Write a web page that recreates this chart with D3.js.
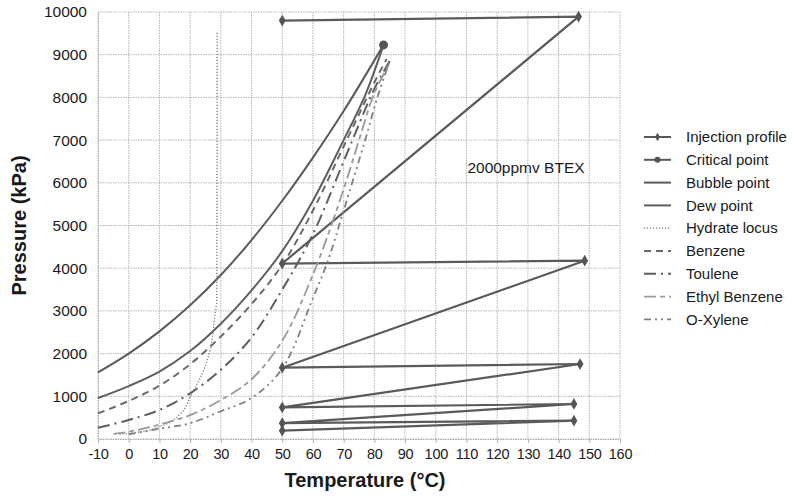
<!DOCTYPE html>
<html>
<head>
<meta charset="utf-8">
<script src="https://cdn.jsdelivr.net/npm/d3@7"></script>
<style>
	body { margin: 0; background: #fff; }
	svg { font-family: "Liberation Sans", Arial, sans-serif; }
</style>
</head>
<body>
<svg width="796" height="498"></svg>
<script>
// temperature (°C), pressure (kPa)
const injectionT = [50, 145, 50, 145, 50, 147, 50, 148.5, 50, 146.5, 50];
const injectionP = [195, 430, 370, 820, 740, 1756, 1670, 4176, 4110, 9890, 9800];

const criticalT = [83];
const criticalP = [9230];

const bubbleT = [-10, 0, 10, 20, 30, 40, 50, 60, 70, 83];
const bubbleP = [1560, 2000, 2520, 3130, 3840, 4660, 5580, 6590, 7680, 9230];

const dewT = [-10, 0, 10, 20, 30, 40, 50, 60, 70, 77, 83];
const dewP = [960, 1240, 1580, 2060, 2700, 3480, 4400, 5580, 7000, 8050, 9230];

const hydrateT = [-3, 4, 10, 17, 20, 24, 26.5, 28, 28.7, 28.8];
const hydrateP = [110, 170, 290, 600, 990, 1540, 2080, 2860, 3300, 9540];

const benzeneT = [-10, 0, 10, 20, 30, 40, 50, 60, 70, 80, 84];
const benzeneP = [600, 890, 1250, 1750, 2400, 3160, 4080, 5350, 6850, 8350, 8900];

const tolueneT = [-10, 0, 10, 20, 30, 40, 50, 60, 70, 80, 85];
const tolueneP = [265, 445, 680, 1070, 1620, 2380, 3500, 4800, 6500, 8200, 8850];

const ethylT = [-5, 0, 10, 20, 30, 40, 50, 60, 70, 75, 80, 85];
const ethylP = [120, 170, 340, 560, 910, 1400, 2300, 3850, 5850, 7000, 8100, 8800];

const xyleneT = [0, 10, 20, 30, 40, 50, 60, 65, 70, 77, 81, 85];
const xyleneP = [110, 240, 370, 650, 960, 1650, 3300, 4200, 5350, 7000, 8000, 8850];

const xTicks = d3.range(-10, 161, 10);
const yTicks = d3.range(0, 10001, 1000);

const legendNames = ['Injection profile', 'Critical point', 'Bubble point', 'Dew point', 'Hydrate locus',
	'Benzene', 'Toulene', 'Ethyl Benzene', 'O-Xylene'];

function zipPoints(ts, ps) {
	return ts.map((t, i) => ({ t: t, p: ps[i] }));
}

const smooth = d3.curveCatmullRom.alpha(0.5);

const series = [
	{ name: 'Injection profile', pts: zipPoints(injectionT, injectionP), color: '#5a5a5a', width: 2.2, dash: null, curve: d3.curveLinear },
	{ name: 'Bubble point', pts: zipPoints(bubbleT, bubbleP), color: '#5a5a5a', width: 2, dash: null, curve: smooth },
	{ name: 'Dew point', pts: zipPoints(dewT, dewP), color: '#5f5f5f', width: 2, dash: null, curve: smooth },
	{ name: 'Hydrate locus', pts: zipPoints(hydrateT, hydrateP), color: '#7a7a7a', width: 1.3, dash: '1.2,1.8', curve: d3.curveMonotoneY },
	{ name: 'Benzene', pts: zipPoints(benzeneT, benzeneP), color: '#6a6a6a', width: 2, dash: '7,5', curve: smooth },
	{ name: 'Toulene', pts: zipPoints(tolueneT, tolueneP), color: '#5e5e5e', width: 2, dash: '12,5,2,5', curve: smooth },
	{ name: 'Ethyl Benzene', pts: zipPoints(ethylT, ethylP), color: '#9a9a9a', width: 1.8, dash: '12,4,5,4', curve: smooth },
	{ name: 'O-Xylene', pts: zipPoints(xyleneT, xyleneP), color: '#808080', width: 1.8, dash: '7,4,2,4,2,4', curve: smooth }
];

const svg = d3.select("svg");
const margin = { left: 98, right: 620, top: 12, bottom: 439 };

const x = d3.scaleLinear().domain([-10, 160]).range([margin.left, margin.right]);
const y = d3.scaleLinear().domain([0, 10000]).range([margin.bottom, margin.top]);

// grid
const grid = svg.append("g").attr("class", "grid");
grid.selectAll("line.vx")
	.data(xTicks)
	.enter().append("line")
		.attr("x1", d => x(d)).attr("x2", d => x(d))
		.attr("y1", y(0)).attr("y2", y(10000))
		.attr("stroke", "#b5b5b5")
		.attr("stroke-width", 1)
		.attr("stroke-dasharray", "1.5,1");
grid.selectAll("line.hy")
	.data(yTicks)
	.enter().append("line")
		.attr("x1", x(-10)).attr("x2", x(160))
		.attr("y1", d => y(d)).attr("y2", d => y(d))
		.attr("stroke", "#b5b5b5")
		.attr("stroke-width", 1)
		.attr("stroke-dasharray", "1.5,1");

// axes
const xAxis = svg.append("g")
	.attr("transform", `translate(0,${y(0)})`)
	.call(d3.axisBottom(x).tickValues(xTicks).tickFormat(d => String(d)).tickSize(4).tickPadding(6));
const yAxis = svg.append("g")
	.attr("transform", `translate(${x(-10)},0)`)
	.call(d3.axisLeft(y).tickValues(yTicks).tickFormat(d => String(d)).tickSize(0).tickPadding(11));
[xAxis, yAxis].forEach(a => {
	a.select(".domain").attr("stroke", "#b0b0b0").attr("stroke-dasharray", "1.5,1");
	a.selectAll(".tick line").attr("stroke", "#b0b0b0");
	a.selectAll("text").attr("fill", "#1a1a1a").style("font-family", "'Liberation Sans', Arial, sans-serif");
});
xAxis.selectAll("text").attr("font-size", 14.5).attr("letter-spacing", "-0.3");
yAxis.selectAll("text").attr("font-size", 15.5);

// series lines
series.forEach(s => {
	const line = d3.line()
		.x(d => x(d.t))
		.y(d => y(d.p))
		.curve(s.curve);
	svg.append("path")
		.datum(s.pts)
		.attr("fill", "none")
		.attr("stroke", s.color)
		.attr("stroke-width", s.width)
		.attr("stroke-dasharray", s.dash)
		.attr("d", line);
});

// injection markers
const diamond = d3.symbol().type(d3.symbolDiamond).size(40);
svg.append("g")
	.selectAll("path")
	.data(series[0].pts)
	.enter().append("path")
		.attr("transform", d => `translate(${x(d.t)},${y(d.p)})`)
		.attr("d", diamond)
		.attr("fill", "#555");

// critical point
svg.append("g")
	.selectAll("circle")
	.data(zipPoints(criticalT, criticalP))
	.enter().append("circle")
		.attr("cx", d => x(d.t))
		.attr("cy", d => y(d.p))
		.attr("r", 4.5)
		.attr("fill", "#555");

// annotation
svg.append("text")
	.attr("x", x(110.3))
	.attr("y", y(6230))
	.attr("font-size", 15.5)
	.attr("fill", "#1a1a1a")
	.text("2000ppmv BTEX");

// axis titles
svg.append("text")
	.attr("x", (margin.left + margin.right) / 2 + 6)
	.attr("y", 487)
	.attr("text-anchor", "middle")
	.attr("font-size", 20)
	.attr("font-weight", "bold")
	.attr("fill", "#1a1a1a")
	.text("Temperature (°C)");
svg.append("text")
	.attr("transform", `translate(26,${(margin.top + margin.bottom) / 2}) rotate(-90)`)
	.attr("text-anchor", "middle")
	.attr("font-size", 20)
	.attr("font-weight", "bold")
	.attr("fill", "#1a1a1a")
	.text("Pressure (kPa)");

// legend
const legendStyles = [
	{ color: '#5a5a5a', width: 2, dash: null, marker: 'diamond' },
	{ color: '#5a5a5a', width: 2, dash: null, marker: 'circle' },
	{ color: '#5a5a5a', width: 2, dash: null },
	{ color: '#5f5f5f', width: 2, dash: null },
	{ color: '#7a7a7a', width: 1.3, dash: '1.2,1.8' },
	{ color: '#6a6a6a', width: 2, dash: '7,5' },
	{ color: '#5e5e5e', width: 2, dash: '12,5,2,5' },
	{ color: '#9a9a9a', width: 1.8, dash: '12,4,5,4' },
	{ color: '#808080', width: 1.8, dash: '7,4,2,4,2,4' }
];

const legend = svg.append("g").attr("class", "legend");
const rows = legend.selectAll("g")
	.data(legendNames)
	.enter().append("g")
		.attr("transform", (d, i) => `translate(644,${137 + i * 22.8})`);

rows.append("line")
	.attr("x1", 0).attr("x2", 27)
	.attr("y1", 0).attr("y2", 0)
	.attr("stroke", (d, i) => legendStyles[i].color)
	.attr("stroke-width", (d, i) => legendStyles[i].width)
	.attr("stroke-dasharray", (d, i) => legendStyles[i].dash);

rows.filter((d, i) => legendStyles[i].marker === 'diamond')
	.append("path")
		.attr("transform", "translate(13.5,0)")
		.attr("d", d3.symbol().type(d3.symbolDiamond).size(22))
		.attr("fill", "#555");
rows.filter((d, i) => legendStyles[i].marker === 'circle')
	.append("circle")
		.attr("cx", 13.5).attr("r", 3)
		.attr("fill", "#555");

rows.append("text")
	.attr("x", 42)
	.attr("dy", "0.35em")
	.attr("font-size", 15)
	.attr("fill", "#1a1a1a")
	.text(d => d);
</script>
</body>
</html>
